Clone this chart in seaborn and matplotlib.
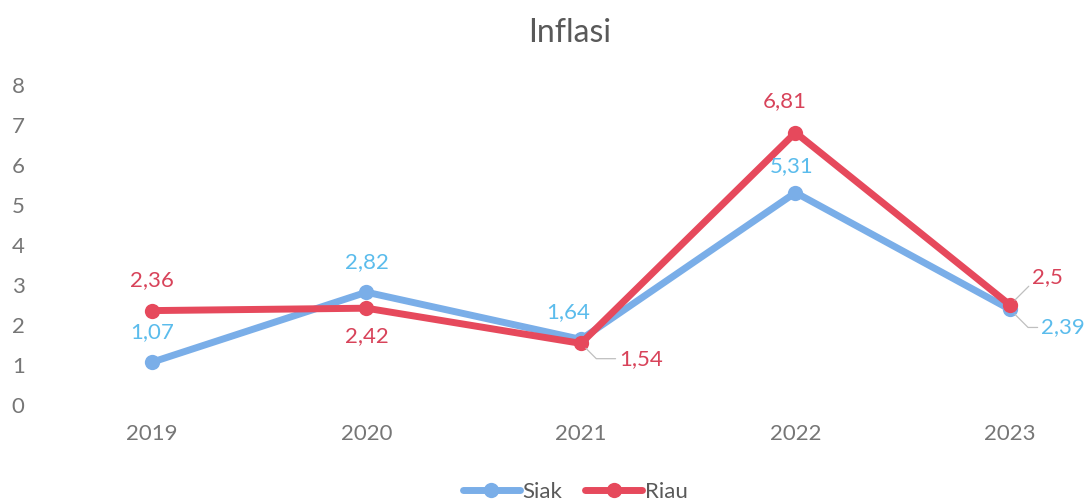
import numpy as np
import pandas as pd
import matplotlib.pyplot as plt
import seaborn as sns
from matplotlib.lines import Line2D

# data
years = ['2019', '2020', '2021', '2022', '2023']
siak = [1.07, 2.82, 1.64, 5.31, 2.39]
riau = [2.36, 2.42, 1.54, 6.81, 2.5]

df = pd.DataFrame({
    'pos': list(range(len(years))) * 2,
    'nilai': siak + riau,
    'wilayah': ['Siak'] * len(years) + ['Riau'] * len(years),
})

sns.set_theme(style='white')
plt.rcParams['font.family'] = ['Lato', 'DejaVu Sans']

blue = '#7aaee8'
red = '#e6495c'
blue_txt = '#5bbcec'
red_txt = '#d8435a'
grey = '#595959'
tick_grey = '#767676'
fs = 16

fig = plt.figure(figsize=(10.87, 5.04), dpi=100)
ax = fig.add_axes([40 / 1087, 99 / 504, 1045 / 1087, 320 / 504])

sns.lineplot(data=df, x='pos', y='nilai', hue='wilayah', palette={'Siak': blue, 'Riau': red},
             marker='o', markersize=11, markeredgewidth=0, linewidth=5, ax=ax, legend=False)

ax.set_xlim((40 - 152) / 214.5, (1085 - 152) / 214.5)
ax.set_ylim(0, 8)
ax.set_yticks(range(0, 9))
ax.set_xticks(range(len(years)))
ax.set_xticklabels(years)
ax.tick_params(axis='both', colors=tick_grey, labelsize=fs, length=0)
ax.tick_params(axis='y', pad=9)
ax.tick_params(axis='x', pad=14)
for lbl in ax.get_yticklabels():
    lbl.set_horizontalalignment('left')
    lbl.set_x(-0.015)
ax.set_xlabel('')
ax.set_ylabel('')
for s in ax.spines.values():
    s.set_visible(False)

# data labels (offsets in points), some with leader lines
def lab(i, v, txt, dx, dy, col, leader=None):
    kw = {}
    if leader is not None:
        kw['arrowprops'] = dict(arrowstyle='-', color='#bfbfbf', lw=0.9,
                                connectionstyle='angle,angleA=0,angleB=%d,rad=0' % leader,
                                shrinkA=0, shrinkB=5)
    ax.annotate(txt, (i, v), xytext=(dx, dy), textcoords='offset points',
                ha='center', va='center', fontsize=fs, color=col, **kw)

lab(0, siak[0], '1,07', 0, 22, blue_txt)
lab(1, siak[1], '2,82', 0, 22, blue_txt)
lab(2, siak[2], '1,64', -9, 20, blue_txt)
lab(3, siak[3], '5,31', -3, 19, blue_txt)
lab(4, siak[4], '2,39', 38, -13, blue_txt, leader=-45)

lab(0, riau[0], '2,36', 0, 22, red_txt)
lab(1, riau[1], '2,42', 0, -20, red_txt)
lab(2, riau[2], '1,54', 43, -11, red_txt, leader=-45)
lab(3, riau[3], '6,81', -8, 23, red_txt)
lab(4, riau[4], '2,5', 27, 20, red_txt, leader=45)

fig.text(570 / 1087, 1 - 33 / 504, 'Inflasi', ha='center', va='center', fontsize=23, color=grey)

handles = [Line2D([], [], color=blue, lw=5, marker='o', markersize=11, markeredgewidth=0),
           Line2D([], [], color=red, lw=5, marker='o', markersize=11, markeredgewidth=0)]
fig.legend(handles, ['Siak', 'Riau'], loc='center', bbox_to_anchor=(575 / 1087, 1 - 492 / 504),
           ncol=2, frameon=False, fontsize=fs, handlelength=2.6, handletextpad=0.1,
           columnspacing=1.0, labelcolor=grey)

fig.savefig('out.png', dpi=100)
